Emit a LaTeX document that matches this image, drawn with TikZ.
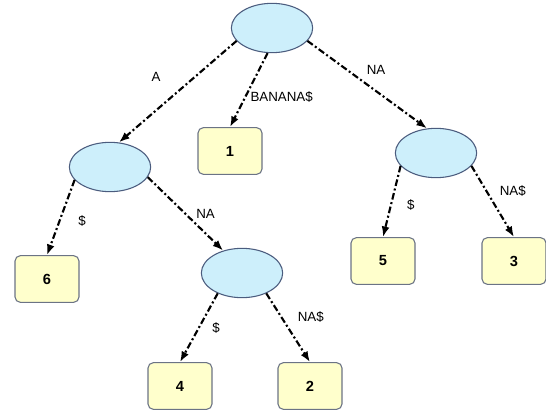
\documentclass[tikz,border=0pt]{standalone}
\usepackage{fontspec}
\setmainfont{Liberation Sans}
\usetikzlibrary{arrows.meta,shapes.geometric}
\definecolor{nodefill}{HTML}{CDEFFB}
\definecolor{nodeline}{HTML}{4B5C7E}
\definecolor{leaffill}{HTML}{FFFFCC}
\definecolor{leafline}{HTML}{6B7385}
\tikzset{
  inner/.style={ellipse,draw=nodeline,fill=nodefill,line width=0.8pt,minimum width=61pt,minimum height=37pt},
  leaf/.style={rectangle,rounded corners=4pt,draw=leafline,fill=leaffill,line width=0.8pt,minimum width=48pt,minimum height=35pt,font=\fontsize{11}{13}\selectfont\bfseries},
  link/.style={-{Latex[length=8pt,width=6pt]},line width=1.6pt,dash pattern=on 5pt off 2pt on 1.5pt off 2pt},
  lbl/.style={font=\fontsize{10}{12}\selectfont}
}
\begin{document}
\begin{tikzpicture}[x=0.75pt,y=-0.75pt]
\useasboundingbox (0,0) rectangle (546,414);
\node[inner] (root) at (272,28) {};
\node[inner] (a) at (110,167) {};
\node[inner] (ana) at (242,273) {};
\node[inner] (na) at (436,153) {};

\node[leaf] (l1) at (230,151) {1};
\node[leaf] (l6) at (47,279) {6};
\node[leaf] (l4) at (180,386) {4};
\node[leaf] (l2) at (310,386) {2};
\node[leaf] (l5) at (383,261) {5};
\node[leaf] (l3) at (514,261) {3};

\path[link] (root.200) edge node[lbl,left=22pt,pos=0.35] {A} (a.70);
\path[link] (root.260) edge node[lbl,right,pos=0.6] {BANANA\$} (l1.north);
\path[link] (root.340) edge node[lbl,above right,pos=0.45] {NA} (na.110);
\path[link] (a.200) edge node[lbl,right=10pt,pos=0.55] {\$} (l6.north);
\path[link] (a.345) edge node[lbl,right=4pt,pos=0.5] {NA} (ana.130);
\path[link] (ana.220) edge node[lbl,right=6pt,pos=0.5] {\$} (l4.north);
\path[link] (ana.320) edge node[lbl,right=8pt,pos=0.35] {NA\$} (l2.north);
\path[link] (na.200) edge node[lbl,right=8pt,pos=0.55] {\$} (l5.north);
\path[link] (na.340) edge node[lbl,right=6pt,pos=0.35] {NA\$} (l3.north);
\end{tikzpicture}
\end{document}
